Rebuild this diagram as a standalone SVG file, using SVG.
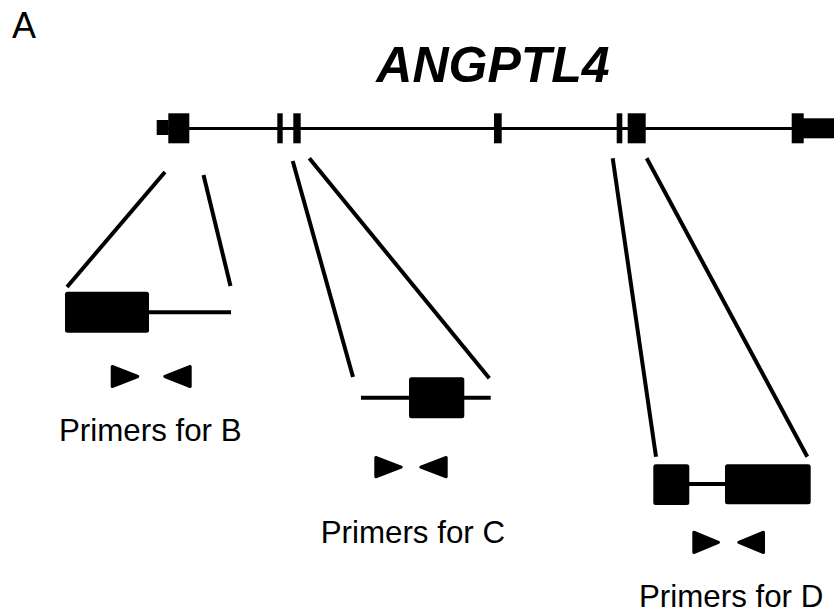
<svg xmlns="http://www.w3.org/2000/svg" width="834" height="613" viewBox="0 0 834 613">
<style>
  .ex { fill: #000; }
  .conn { stroke: #000; stroke-width: 4; fill: none; }
  .intron { stroke: #000; stroke-width: 4; fill: none; }
  .box { fill: #000; }
  .primer { fill: #000; stroke: #000; stroke-width: 3; stroke-linejoin: round; }
  .lbl { font-family: "Liberation Sans", Arial, sans-serif; font-size: 31.3px; fill: #000; }
</style>
<rect width="834" height="613" fill="#fff"/>
<text id="panel-label" x="12" y="38" font-family="Liberation Sans, Arial, sans-serif" font-size="36" fill="#000">A</text>
<text id="gene-title" x="493" y="81.5" text-anchor="middle" font-family="Liberation Sans, Arial, sans-serif" font-size="50" font-weight="bold" font-style="italic" fill="#000">ANGPTL4</text>

<g id="gene">
  <line x1="160" y1="128.5" x2="834" y2="128.5" stroke="#000" stroke-width="3"/>
  <rect class="ex" x="156.7" y="120" width="12" height="15"/>
  <rect class="ex" x="168.3" y="113.3" width="21" height="30"/>
  <rect class="ex" x="277.3" y="113.3" width="5.4" height="30"/>
  <rect class="ex" x="293.3" y="113.3" width="7.4" height="30"/>
  <rect class="ex" x="494" y="113.3" width="7.7" height="30"/>
  <rect class="ex" x="616.7" y="113.3" width="5.6" height="30"/>
  <rect class="ex" x="627.7" y="113.3" width="18" height="30"/>
  <rect class="ex" x="791.7" y="113.3" width="12" height="30"/>
  <rect class="ex" x="803" y="118.3" width="31" height="20"/>
</g>

<g id="connectors">
  <line class="conn" x1="165" y1="172" x2="67" y2="287"/>
  <line class="conn" x1="203.5" y1="175" x2="230.5" y2="286"/>
  <line class="conn" x1="292.7" y1="161" x2="353" y2="377"/>
  <line class="conn" x1="309.3" y1="158.3" x2="489.3" y2="378.3"/>
  <line class="conn" x1="612.7" y1="158.3" x2="656" y2="456.7"/>
  <line class="conn" x1="646.7" y1="158.3" x2="807.3" y2="456.7"/>
</g>

<g id="detail-B">
  <line class="intron" x1="148" y1="312.3" x2="231" y2="312.3"/>
  <rect class="box" x="65" y="291.7" width="84" height="41" rx="2.5"/>
  <polygon class="primer" points="112.2,366.5 137.8,376.5 112.2,386.5"/>
  <polygon class="primer" points="190.2,366.5 164.8,376.5 190.2,386.5"/>
  <text class="lbl" x="59" y="440.7">Primers for B</text>
</g>

<g id="detail-C">
  <line class="intron" x1="361" y1="397.7" x2="490.7" y2="397.7"/>
  <rect class="box" x="409" y="377.3" width="55.3" height="41" rx="2.5"/>
  <polygon class="primer" points="375.8,457.5 401.2,467.2 375.8,476.8"/>
  <polygon class="primer" points="446.2,457.5 420.8,467.2 446.2,476.8"/>
  <text class="lbl" x="320.7" y="542.7">Primers for C</text>
</g>

<g id="detail-D">
  <line class="intron" x1="688" y1="484" x2="726" y2="484"/>
  <rect class="box" x="653.3" y="464.3" width="36" height="40.7" rx="2.5"/>
  <rect class="box" x="725" y="464.3" width="85.7" height="40" rx="2.5"/>
  <polygon class="primer" points="693.8,532.2 718.5,542.3 693.8,552.5"/>
  <polygon class="primer" points="763.5,532.2 738.8,542.3 763.5,552.5"/>
  <text class="lbl" x="639" y="607.3">Primers for D</text>
</g>
</svg>
